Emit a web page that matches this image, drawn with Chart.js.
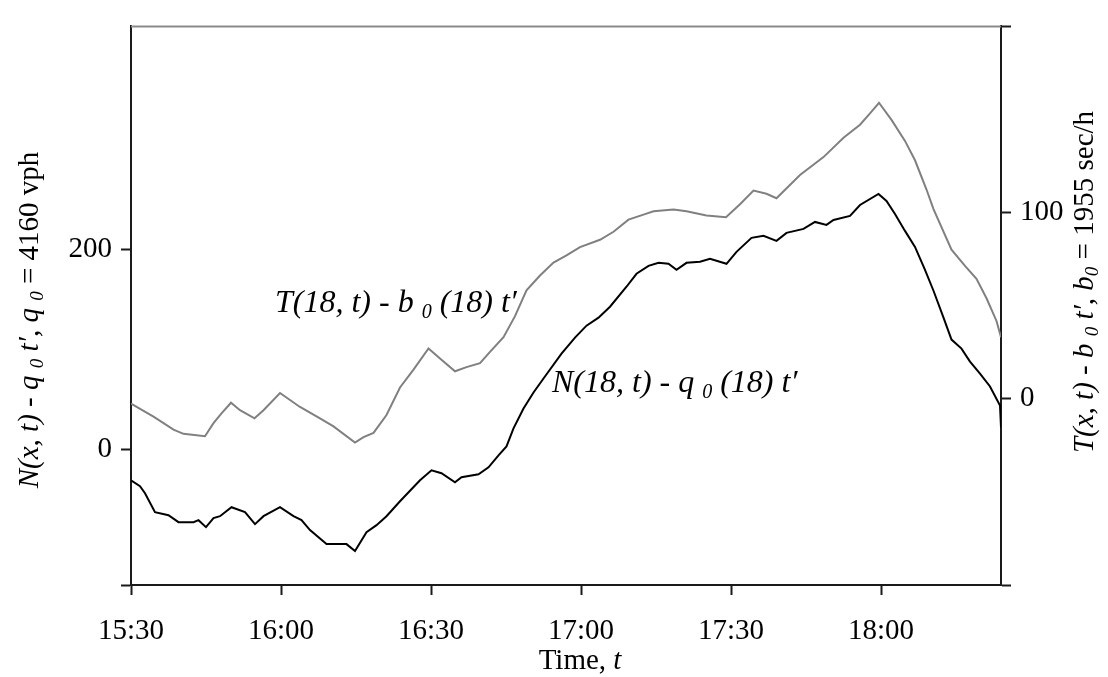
<!DOCTYPE html>
<html>
<head>
<meta charset="utf-8">
<script src="https://cdn.jsdelivr.net/npm/chart.js@4/dist/chart.umd.min.js"></script>
<style>
  html, body { margin: 0; padding: 0; background: #fff; }
  #wrap { width: 1108px; height: 677px; position: relative; }
</style>
</head>
<body>
<div id="wrap"><canvas id="c" width="1108" height="677"></canvas></div>
<script>
// ---- Data (minutes after 15:30) ----
const xTickValues = [0, 30, 60, 90, 120, 150];
const xTickLabels = ["15:30", "16:00", "16:30", "17:00", "17:30", "18:00"];

// N(18,t) - q0(18) t'  (left axis, vehicles)
const nTime = [0, 1.8, 2.8, 4.8, 7.5, 9.5, 12.5, 13.5, 15, 16.5, 17.8, 20.1, 22.8, 24.8, 26.5, 29.8, 32.5, 34.1, 35.8, 39.1, 43.1, 44.8, 47.1, 49.1, 51.1, 53.8, 57.8, 60.1, 62.1, 64.8, 66.1, 69.5, 71.5, 73.5, 75.1, 76.5, 78.5, 80.5, 82.5, 86.1, 88.8, 91.1, 93.5, 95.8, 99.1, 101.1, 103.5, 105.5, 107.5, 109.1, 111.1, 113.8, 115.8, 119.1, 121.1, 124.1, 126.5, 129.1, 131.1, 134.5, 136.8, 139.1, 140.5, 143.8, 145.8, 149.5, 151.1, 152.8, 154.8, 156.8, 158.8, 160.5, 162.5, 164.1, 166.1, 167.8, 169.8, 171.8, 173.8, 174];
const nValue = [-31, -37, -44, -63, -66, -73, -73, -71, -78, -69, -67, -58, -63, -75, -67, -58, -67, -71, -81, -95, -95, -102, -83, -76, -67, -52, -31, -21, -24, -33, -28, -25, -18, -6, 3, 21, 41, 57, 71, 96, 112, 124, 132, 143, 163, 176, 184, 187, 186, 180, 187, 188, 191, 186, 198, 212, 214, 209, 217, 221, 228, 225, 230, 234, 245, 256, 249, 236, 219, 203, 180, 159, 132, 110, 101, 88, 76, 63, 44, 22];

// T(18,t) - b0(18) t'  (right axis, seconds)
const tTime = [0, 4.5, 8.5, 10.5, 14.8, 16.5, 18.1, 20, 21.8, 24.7, 26.5, 29.8, 33.8, 37.8, 40.5, 44.8, 46.5, 48.5, 51.1, 53.8, 56.5, 59.5, 61.8, 64.8, 67.1, 69.8, 71.8, 74.5, 76.8, 79.1, 81.8, 84.5, 87.1, 89.8, 93.8, 96.5, 99.5, 102.5, 104.5, 108.5, 111.1, 115.1, 119, 121.8, 124.5, 127.1, 129.1, 133.8, 138.5, 142.5, 145.8, 147.8, 149.6, 152.1, 154.8, 156.8, 159.1, 160.5, 164.1, 166.8, 169.1, 171.1, 173.1, 174];
const tValue = [-2.6, -9.6, -16.6, -18.8, -20.1, -13.1, -7.8, -2.1, -6.1, -10.5, -6.1, 3.1, -4.4, -10.5, -14.8, -23.5, -20.6, -18.3, -8.7, 6.1, 15.7, 27, 21.7, 14.8, 17, 19.1, 25.2, 33.1, 44.4, 58.3, 66.2, 73.2, 77, 81.5, 85.4, 89.7, 96.2, 98.9, 100.7, 101.6, 100.7, 98.4, 97.5, 104.5, 111.8, 110.1, 107.7, 120.2, 129.8, 140.2, 147.2, 153.3, 159, 149.8, 138.5, 128.1, 112.4, 101.9, 80.1, 71.4, 64.4, 54, 41.8, 33.1];

const leftTicks = [-136, 0, 200];
const leftLabeled = [0, 200];
const rightTicks = [-100, 0, 100, 200];
const rightLabeled = [0, 100];

const SERIF = "'Liberation Serif', 'Times New Roman', serif";

function toPoints(xs, ys) { return xs.map((x, i) => ({ x: x, y: ys[i] })); }

// draw mixed-style text (segments) horizontally or rotated
function drawRich(ctx, segs, cx, cy, rot, align) {
  ctx.save();
  ctx.translate(cx, cy);
  if (rot) ctx.rotate(rot);
  ctx.textBaseline = 'alphabetic';
  ctx.fillStyle = '#000';
  let total = 0;
  const widths = segs.map(s => { ctx.font = s.font; const w = ctx.measureText(s.text).width; total += w; return w; });
  let x = align === 'left' ? 0 : -total / 2;
  segs.forEach((s, i) => {
    ctx.font = s.font;
    ctx.fillText(s.text, x, s.dy || 0);
    x += widths[i];
  });
  ctx.restore();
}

const it = (sz) => `italic ${sz}px ${SERIF}`;
const rg = (sz) => `${sz}px ${SERIF}`;

const textPlugin = {
  id: 'richText',
  afterDraw(chart) {
    const ctx = chart.ctx;
    const ca = chart.chartArea;
    // top border (gray)
    ctx.save();
    ctx.strokeStyle = '#8a8a8a';
    ctx.lineWidth = 2;
    ctx.beginPath();
    ctx.moveTo(ca.left, ca.top);
    ctx.lineTo(ca.right, ca.top);
    ctx.stroke();
    ctx.restore();

    const T = 29, S = 19;
    // left axis title
    drawRich(ctx, [
      { text: 'N(x, t) - q ', font: it(T) },
      { text: '0', font: it(S), dy: 5 },
      { text: ' t\u2032, q ', font: it(T) },
      { text: '0', font: it(S), dy: 5 },
      { text: ' = 4160 vph', font: rg(T) }
    ], 38, 320, -Math.PI / 2);
    // right axis title
    drawRich(ctx, [
      { text: 'T(x, t) - b ', font: it(T) },
      { text: '0', font: it(S), dy: 5 },
      { text: ' t\u2032, b', font: it(T) },
      { text: '0', font: it(S), dy: 5 },
      { text: ' = 1955 sec/h', font: rg(T) }
    ], 1093, 282, -Math.PI / 2);
    // x axis title
    drawRich(ctx, [
      { text: 'Time, ', font: rg(T) },
      { text: 't', font: it(T) }
    ], 580, 669, 0);

    const A = 32, AS = 20;
    drawRich(ctx, [
      { text: 'T(18, t) - b ', font: it(A) },
      { text: '0', font: it(AS), dy: 6 },
      { text: ' (18) t\u2032', font: it(A) }
    ], 275, 312, 0, 'left');
    drawRich(ctx, [
      { text: 'N(18, t) - q ', font: it(A) },
      { text: '0', font: it(AS), dy: 6 },
      { text: ' (18) t\u2032', font: it(A) }
    ], 552, 392, 0, 'left');
  }
};

const axisColor = '#1a1a1a';

new Chart(document.getElementById('c'), {
  type: 'line',
  data: {
    datasets: [
      { label: 'N', data: toPoints(nTime, nValue), yAxisID: 'y', borderColor: '#000', borderWidth: 2, pointRadius: 0, tension: 0, fill: false },
      { label: 'T', data: toPoints(tTime, tValue), yAxisID: 'y2', borderColor: '#808080', borderWidth: 2, pointRadius: 0, tension: 0, fill: false }
    ]
  },
  options: {
    responsive: false,
    animation: false,
    layout: { padding: { top: 11, left: 0, right: 0, bottom: 0 } },
    plugins: { legend: { display: false }, tooltip: { enabled: false } },
    scales: {
      x: {
        type: 'linear', min: 0, max: 174,
        afterBuildTicks: (s) => { s.ticks = xTickValues.map(v => ({ value: v })); },
        afterFit: (s) => { s.height = 92; },
        ticks: {
          callback: (v) => { const i = xTickValues.indexOf(v); return i >= 0 ? xTickLabels[i] : ''; },
          font: { family: SERIF, size: 29 }, color: '#000', padding: 19, maxRotation: 0, autoSkip: false
        },
        grid: { drawOnChartArea: false, drawTicks: true, tickLength: 10, tickColor: axisColor, tickWidth: 2 },
        border: { display: true, color: axisColor, width: 2 }
      },
      y: {
        position: 'left', min: -136, max: 424,
        afterBuildTicks: (s) => { s.ticks = leftTicks.map(v => ({ value: v })); },
        afterFit: (s) => { s.width = 131; },
        ticks: {
          callback: (v) => leftLabeled.includes(v) ? String(v) : '',
          font: { family: SERIF, size: 29 }, color: '#000', padding: 9, autoSkip: false
        },
        grid: { drawOnChartArea: false, drawTicks: true, tickLength: 10, tickColor: axisColor, tickWidth: 2 },
        border: { display: true, color: axisColor, width: 2 }
      },
      y2: {
        position: 'right', min: -100, max: 200,
        afterBuildTicks: (s) => { s.ticks = rightTicks.map(v => ({ value: v })); },
        afterFit: (s) => { s.width = 107; },
        ticks: {
          callback: (v) => rightLabeled.includes(v) ? String(v) : '',
          font: { family: SERIF, size: 29 }, color: '#000', padding: 9, autoSkip: false
        },
        grid: { drawOnChartArea: false, drawTicks: true, tickLength: 10, tickColor: axisColor, tickWidth: 2 },
        border: { display: true, color: axisColor, width: 2 }
      }
    }
  },
  plugins: [textPlugin]
});
</script>
</body>
</html>
